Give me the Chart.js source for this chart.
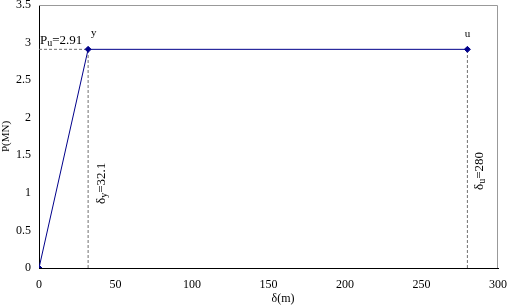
<!DOCTYPE html>
<html>
<head>
<meta charset="utf-8">
<script src="https://cdn.jsdelivr.net/npm/chart.js@4.4.1/dist/chart.umd.min.js"></script>
<style>
  html, body { margin: 0; padding: 0; background: #fff; }
  #wrap { width: 507px; height: 307px; }
</style>
</head>
<body>
<div id="wrap"><canvas id="c"></canvas></div>
<script>
// load-displacement curve
const deltaVals = [0, 32.1, 280];
const loadVals = [0, 2.91, 2.91];
const yieldDelta = 32.1;
const ultDelta = 280;
const ultLoad = 2.91;
const xTicks = [0, 50, 100, 150, 200, 250, 300];
const yTicks = [0, 0.5, 1, 1.5, 2, 2.5, 3, 3.5];

const serif = 'Liberation Serif, Times New Roman, serif';
const navy = '#00008B';
const dashGray = '#707070';

const curve = deltaVals.map((d, i) => ({ x: d, y: loadVals[i] }));

function dashed(pts) {
  return {
    data: pts,
    borderColor: dashGray,
    borderWidth: 1,
    borderDash: [3, 2],
    pointRadius: 0,
    showLine: true
  };
}

// labels and the box edges on top/right
const notes = {
  id: 'notes',
  afterDatasetsDraw(chart) {
    const { ctx, chartArea: a, scales: { x, y } } = chart;
    ctx.save();
    ctx.strokeStyle = '#999';
    ctx.lineWidth = 1;
    ctx.beginPath();
    ctx.moveTo(a.left, a.top + 0.5);
    ctx.lineTo(a.right - 0.5, a.top + 0.5);
    ctx.lineTo(a.right - 0.5, a.bottom);
    ctx.stroke();

    ctx.fillStyle = '#000';
    ctx.textBaseline = 'alphabetic';
    ctx.font = '13px ' + serif;
    const py = y.getPixelForValue(ultLoad);
    let tx = a.left + 1;
    ctx.fillText('P', tx, py - 5);
    tx += ctx.measureText('P').width;
    ctx.font = '10px ' + serif;
    ctx.fillText('u', tx, py - 3);
    tx += ctx.measureText('u').width;
    ctx.font = '13px ' + serif;
    ctx.fillText('=2.91', tx, py - 5);

    ctx.font = '11px ' + serif;
    ctx.fillText('y', x.getPixelForValue(yieldDelta) + 3, py - 13);
    ctx.textAlign = 'center';
    ctx.fillText('u', x.getPixelForValue(ultDelta), py - 12);

    // x axis title
    ctx.font = '12px ' + serif;
    ctx.fillText('\u03b4(m)', 283, 302);

    function vlabel(px, bottom, sub, val) {
      ctx.save();
      ctx.translate(px, bottom);
      ctx.rotate(-Math.PI / 2);
      ctx.textAlign = 'left';
      ctx.font = '13px ' + serif;
      let t = 0;
      ctx.fillText('\u03b4', t, 0);
      t += ctx.measureText('\u03b4').width;
      ctx.font = '10px ' + serif;
      ctx.fillText(sub, t, 2);
      t += ctx.measureText(sub).width;
      ctx.font = '13px ' + serif;
      ctx.fillText(val, t, 0);
      ctx.restore();
    }
    vlabel(x.getPixelForValue(yieldDelta) + 17, 204, 'y', '=32.1');
    vlabel(x.getPixelForValue(ultDelta) + 16, 190, 'u', '=280');
    ctx.restore();
  }
};

new Chart(document.getElementById('c'), {
  type: 'scatter',
  data: {
    datasets: [
      {
        data: curve,
        borderColor: navy,
        backgroundColor: navy,
        borderWidth: 1,
        showLine: true,
        pointStyle: 'rectRot',
        pointRadius: 3,
        pointHoverRadius: 3
      },
      dashed([{ x: 0, y: ultLoad }, { x: yieldDelta, y: ultLoad }]),
      dashed([{ x: yieldDelta, y: 0 }, { x: yieldDelta, y: ultLoad }]),
      dashed([{ x: ultDelta, y: 0 }, { x: ultDelta, y: ultLoad }])
    ]
  },
  options: {
    responsive: true,
    maintainAspectRatio: false,
    animation: false,
    events: [],
    layout: { padding: { top: 5, right: 9, left: 0, bottom: 0 } },
    plugins: { legend: { display: false }, tooltip: { enabled: false } },
    scales: {
      x: {
        type: 'linear',
        min: 0,
        max: 300,
        afterBuildTicks: s => { s.ticks = xTicks.map(v => ({ value: v })); },
        afterFit: s => { s.height = 39; s.paddingLeft = 0; s.paddingRight = 0; },
        grid: { display: false, drawTicks: false },
        border: { display: true, color: '#000', width: 1 },
        ticks: { color: '#000', font: { family: serif, size: 12 }, padding: 10, maxRotation: 0 }
      },
      y: {
        type: 'linear',
        min: 0,
        max: 3.5,
        afterBuildTicks: s => { s.ticks = yTicks.map(v => ({ value: v })); },
        afterFit: s => { s.width = 39; s.paddingTop = 0; s.paddingBottom = 0; },
        grid: { display: false, drawTicks: false },
        border: { display: true, color: '#000', width: 1 },
        ticks: { color: '#000', font: { family: serif, size: 12 }, padding: 8, callback: v => String(v) },
        title: { display: true, text: 'P(MN)', color: '#000', font: { family: serif, size: 11 }, padding: 0 }
      }
    }
  },
  plugins: [notes]
});
</script>
</body>
</html>
